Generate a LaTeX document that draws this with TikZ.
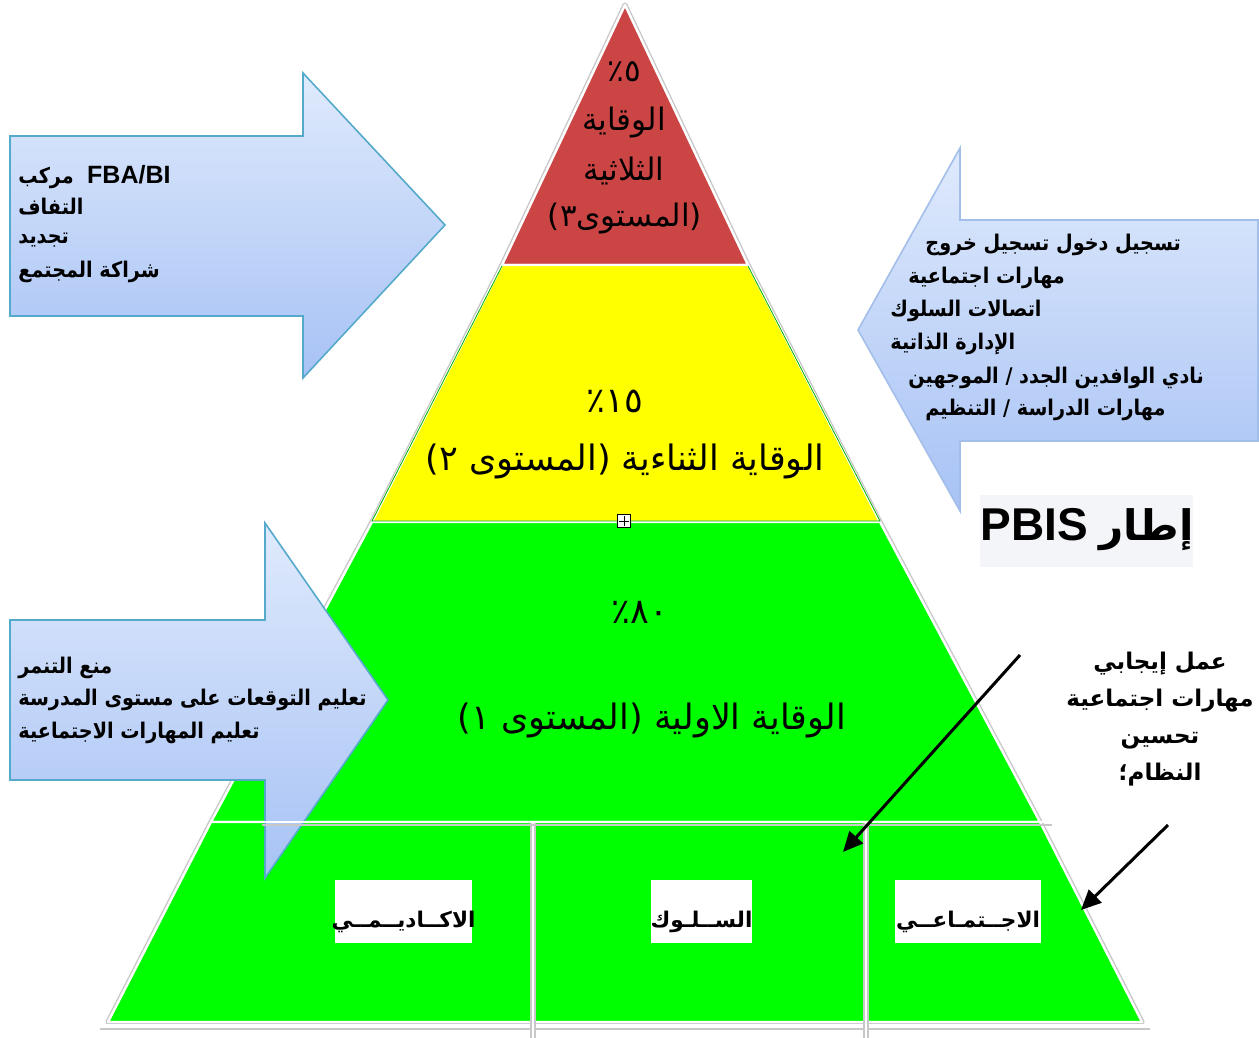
\documentclass[tikz,border=0pt]{standalone}
\usepackage{fontspec}
\usetikzlibrary{arrows.meta}
\TeXXeTstate=1
\newfontfamily\arabicfont[Script=Arabic]{DejaVu Sans}
\newfontfamily\arabicnarrow[Script=Arabic,FakeStretch=0.89]{DejaVu Sans}
\newfontfamily\latinfont{Liberation Sans}
\definecolor{tierred}{HTML}{CC4545}
\definecolor{tieryellow}{HTML}{FFFF00}
\definecolor{tiergreen}{HTML}{00FF00}
\definecolor{arrowtop}{HTML}{DFEAFC}
\definecolor{arrowbot}{HTML}{A7C2F5}
\definecolor{arrowedge}{HTML}{55AACB}
\definecolor{arrowedgeR}{HTML}{A3BEE8}
\definecolor{titlebg}{HTML}{F4F5F8}
\definecolor{edgeshadow}{HTML}{C8C8C8}
\tikzset{
  tierfill/.style={draw=white, line width=1.2pt, line join=round},
  tiertext/.style={font=\arabicfont\fontsize{15.5}{18}\selectfont, inner sep=0pt, text=black},
  bigtier/.style={font=\arabicfont\fontsize{17.5}{20}\selectfont, inner sep=0pt, text=black},
  bluearrow/.style={top color=arrowtop, bottom color=arrowbot, draw=arrowedge, line width=0.8pt, line join=miter},
  armtext/.style={font=\arabicnarrow\bfseries\fontsize{10.8}{12}\selectfont, inner sep=0pt, anchor=west},
  sidetext/.style={font=\arabicfont\bfseries\fontsize{11.5}{18.5}\selectfont, inner sep=0pt, align=center},
  labelbox/.style={fill=white, inner sep=0pt, minimum height=31.5pt},
  labeltext/.style={font=\arabicfont\bfseries\fontsize{10.8}{12}\selectfont, inner sep=0pt},
  separator/.style={draw=white, line width=1.3pt},
  sepshadow/.style={draw=edgeshadow, line width=2.6pt},
  pointer/.style={draw=black, line width=1.5pt, -{Triangle[length=10pt,width=9pt]}},
}
\begin{document}
\begin{tikzpicture}[x=0.5pt,y=-0.5pt]
\useasboundingbox (0,0) rectangle (1259,1038);
% pyramid silhouette shadow
\draw[edgeshadow, line width=2.6pt, line join=round] (625,5) -- (748,265) -- (880,522) -- (1040,822) -- (1142,1022) -- (108,1022) -- (211,822) -- (372,522) -- (502,265) -- cycle;
% tiers
\filldraw[tierfill, fill=tierred] (625,5) -- (748,265) -- (502,265) -- cycle;
\filldraw[tierfill, fill=tieryellow] (502,265) -- (748,265) -- (880,522) -- (372,522) -- cycle;
\filldraw[tierfill, fill=tiergreen] (372,522) -- (880,522) -- (1040,822) -- (211,822) -- cycle;
\filldraw[tierfill, fill=tiergreen] (211,822) -- (1040,822) -- (1142,1022) -- (108,1022) -- cycle;
\draw[tiergreen!70!black, line width=0.4pt] (502,266) -- (372,521) -- (880,521) -- (748,266);
% base line
\draw[edgeshadow, line width=1.4pt] (100,1029) -- (1150,1029);
\draw[white, line width=1.4pt] (100,1025) -- (1150,1025);
% vertical separators
\draw[sepshadow] (533,822) -- (533,1038);
\draw[separator] (533,822) -- (533,1038);
\draw[sepshadow] (866,822) -- (866,1038);
\draw[separator] (866,822) -- (866,1038);

% tier texts
\node[tiertext] (t3pct) at (624,72) {\beginR ٥٪\endR};
\node[tiertext] (t3a) at (624,123) {\beginR الوقاية\endR};
\node[tiertext] (t3b) at (624,171) {\beginR الثلاثية\endR};
\node[tiertext] (t3c) at (625,219) {\beginR (المستوى٣)\endR};
\node[bigtier] (t2pct) at (615,401) {\beginR ١٥٪\endR};
\node[bigtier] (t2) at (625,461) {\beginR الوقاية الثناءية (المستوى ٢)\endR};
\node[bigtier] (t1pct) at (640,612) {\beginR ٨٠٪\endR};
\node[bigtier] (t1) at (652,720) {\beginR الوقاية الاولية (المستوى ١)\endR};

% small handle icon
\node[draw=black, fill=white, line width=0.5pt, minimum size=6.5pt, inner sep=0pt] (handle) at (624,521) {};
\draw[line width=0.5pt] ([yshift=-1.2pt]handle.north) -- ([yshift=1.2pt]handle.south);
\draw[line width=0.5pt] ([xshift=1.2pt]handle.west) -- ([xshift=-1.2pt]handle.east);

% bottom labels
\node[labelbox, minimum width=68.5pt] (boxacad) at (403.5,911.5) {};
\node[labeltext] (acad) at (403.5,922) {\beginR الاكــاديــمــي\endR};
\node[labelbox, minimum width=50.5pt] (boxbeh) at (701.5,911.5) {};
\node[labeltext] (beh) at (701.5,922) {\beginR الســلـوك\endR};
\node[labelbox, minimum width=73pt] (boxsoc) at (968,911.5) {};
\node[labeltext] (soc) at (968,922) {\beginR الاجــتمـاعــي\endR};

% blue arrows
\shade[bluearrow] (10,136) -- (303,136) -- (303,73) -- (445,225) -- (303,378) -- (303,316) -- (10,316) -- cycle;
\shade[bluearrow, draw=arrowedgeR] (1258,220) -- (960,220) -- (960,148) -- (858,330) -- (960,511) -- (960,441) -- (1258,441) -- cycle;
\shade[bluearrow] (10,620) -- (265,620) -- (265,523) -- (388,700) -- (265,878) -- (265,780) -- (10,780) -- cycle;

% white line on top of lower tier
\draw[sepshadow, line width=1.2pt] (262,825) -- (1052,825);
\draw[separator] (262,822) -- (1052,822);

% arrow texts: top left
\node[armtext] (tl1) at (18,177) {\beginR\beginL{\latinfont\bfseries\fontsize{12.5}{14}\selectfont FBA/BI}\endL\ \ مركب\endR};
\node[armtext] (tl2) at (18,207) {\beginR التفاف\endR};
\node[armtext] (tl3) at (18,240) {\beginR تجديد\endR};
\node[armtext] (tl4) at (18,272) {\beginR شراكة المجتمع\endR};
% right arrow
\node[armtext] (r1) at (925,245) {\beginR تسجيل دخول تسجيل خروج\endR};
\node[armtext] (r2) at (908,278) {\beginR مهارات اجتماعية\endR};
\node[armtext] (r3) at (890,311) {\beginR اتصالات السلوك\endR};
\node[armtext] (r4) at (890,344) {\beginR الإدارة الذاتية\endR};
\node[armtext] (r5) at (908,378) {\beginR نادي الوافدين الجدد / الموجهين\endR};
\node[armtext] (r6) at (925,410) {\beginR مهارات الدراسة / التنظيم\endR};
% bottom left
\node[armtext] (bl1) at (18,668) {\beginR منع التنمر\endR};
\node[armtext] (bl2) at (18,700) {\beginR تعليم التوقعات على مستوى المدرسة\endR};
\node[armtext] (bl3) at (18,733) {\beginR تعليم المهارات الاجتماعية\endR};

% title
\node[fill=titlebg, minimum width=106.5pt, minimum height=36pt, inner sep=0pt] (titlebox) at (1086.5,531) {};
\node[inner sep=0pt] (title) at (1087,530) {\beginR{\arabicfont\bfseries\fontsize{21}{24}\selectfont إطار}\hspace{6pt}\beginL{\latinfont\bfseries\fontsize{23}{26}\selectfont PBIS}\endL\endR};

% side text
\node[sidetext] (side) at (1160,719) {\beginR عمل إيجابي\endR\\\beginR مهارات اجتماعية\endR\\\beginR تحسين\endR\\\beginR النظام؛\endR};

% pointers
\coordinate (p1s) at (1020,655);
\coordinate (p1e) at (843,852);
\draw[pointer] (p1s) -- (p1e);
\coordinate (p2s) at (1168,825);
\coordinate (p2e) at (1081,910);
\draw[pointer] (p2s) -- (p2e);
\end{tikzpicture}
\end{document}
